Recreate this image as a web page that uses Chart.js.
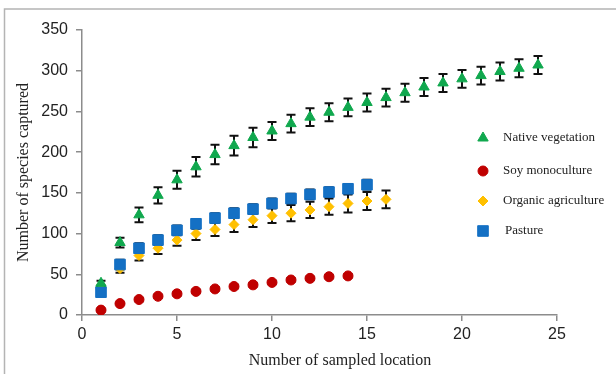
<!DOCTYPE html>
<html>
<head>
<meta charset="utf-8">
<script src="https://cdn.jsdelivr.net/npm/chart.js@4.4.1/dist/chart.umd.min.js"></script>
<style>
  html, body { margin: 0; padding: 0; background: #fff; }
  #wrap { position: relative; width: 616px; height: 374px; }
</style>
</head>
<body>
<div id="wrap"><canvas id="chart" width="616" height="374"></canvas></div>
<script>
// species accumulation by sampled location
const locations = [1, 2, 3, 4, 5, 6, 7, 8, 9, 10, 11, 12, 13, 14, 15, 16, 17, 18, 19, 20, 21, 22, 23, 24];

const nativeVeg = [39, 89, 123, 147, 166, 182, 197, 208, 218, 226, 235, 243, 249, 255, 261, 267, 273, 280, 285, 290, 294, 299, 303, 307];
const nativeErr = [3, 6, 9, 10, 11, 12, 12, 12, 12, 11, 11, 11, 11, 11, 11, 11, 11, 11, 11, 11, 11, 11, 11, 11];

const soyMono = [6, 14, 19, 23, 26, 29, 32, 35, 37, 40, 43, 45, 47, 48];
const soyErr = [1, 1, 2, 2, 2, 2, 2, 2, 2, 2, 2, 2, 2, 2];

const organicAgri = [32, 57, 73, 82, 92, 100, 105, 111, 117, 122, 125, 129, 133, 137, 140, 142];
const organicErr = [4, 5, 6, 7, 7, 8, 8, 9, 9, 9, 10, 10, 10, 11, 11, 11];

const pasture = [28, 62, 82, 92, 104, 112, 119, 125, 130, 137, 143, 148, 151, 155, 160];
const pastureErr = [5, 6, 6, 6, 6, 6, 6, 6, 6, 6, 6, 6, 6, 6, 6];

const seriesNames = ['Native vegetation', 'Soy monoculture', 'Organic agriculture', 'Pasture'];
const xTicks = [0, 5, 10, 15, 20, 25];
const yTicks = [0, 50, 100, 150, 200, 250, 300, 350];

const sansFont = "'Liberation Sans', Arial, sans-serif";
const serifFont = "'Liberation Serif', 'Times New Roman', serif";

// 把数组拼成散点
function toPoints(values, errs) {
    return values.map((v, i) => ({ x: locations[i], y: v, err: errs[i] }));
}

// 误差线：画在标记后面
const errorBarPlugin = {
    id: 'errorBars',
    beforeDatasetsDraw(chart) {
        const ctx = chart.ctx;
        const yScale = chart.scales.y;
        ctx.save();
        ctx.strokeStyle = '#111';
        ctx.lineWidth = 2;
        chart.data.datasets.forEach((ds, di) => {
            const meta = chart.getDatasetMeta(di);
            meta.data.forEach((pt, i) => {
                const p = ds.data[i];
                const top = yScale.getPixelForValue(p.y + p.err);
                const bot = yScale.getPixelForValue(p.y - p.err);
                const cap = 4.5;
                ctx.beginPath();
                ctx.moveTo(pt.x, top);
                ctx.lineTo(pt.x, bot);
                ctx.moveTo(pt.x - cap, top);
                ctx.lineTo(pt.x + cap, top);
                ctx.moveTo(pt.x - cap, bot);
                ctx.lineTo(pt.x + cap, bot);
                ctx.stroke();
            });
        });
        ctx.restore();
    }
};

// 外框、轴标题和图例
const decorPlugin = {
    id: 'decor',
    beforeDraw(chart) {
        const ctx = chart.ctx;
        ctx.save();
        ctx.fillStyle = '#fff';
        ctx.fillRect(0, 0, chart.width, chart.height);
        ctx.strokeStyle = '#b4b4b4';
        ctx.lineWidth = 1.5;
        ctx.strokeRect(4.5, 9, chart.width + 20, chart.height + 20);
        ctx.restore();
    },
    afterDraw(chart) {
        const ctx = chart.ctx;
        const area = chart.chartArea;
        ctx.save();
        ctx.fillStyle = '#222';
        ctx.font = '16px ' + serifFont;
        ctx.textAlign = 'center';
        ctx.textBaseline = 'middle';
        ctx.fillText('Number of sampled location', area.left + 258, 361);

        ctx.translate(24, (area.top + area.bottom) / 2);
        ctx.rotate(-Math.PI / 2);
        ctx.fillText('Number of species captured', 0, 0);
        ctx.restore();

        // 图例
        ctx.save();
        ctx.font = '13px ' + serifFont;
        ctx.textAlign = 'left';
        ctx.textBaseline = 'middle';
        const rows = [138, 171, 201, 231];
        chart.data.datasets.forEach((ds, i) => {
            const y = rows[i];
            ctx.fillStyle = ds.backgroundColor;
            ctx.strokeStyle = ds.borderColor;
            ctx.lineWidth = 1;
            Chart.helpers.drawPoint(ctx, {
                pointStyle: ds.pointStyle,
                radius: ds.pointRadius,
                rotation: 0,
                borderWidth: 1
            }, 483, y);
            ctx.fillStyle = '#222';
            ctx.fillText(ds.label, i === 3 ? 505 : 503, y);
        });
        ctx.restore();
    }
};

new Chart(document.getElementById('chart'), {
    type: 'scatter',
    data: {
        datasets: [
            {
                label: seriesNames[0],
                data: toPoints(nativeVeg, nativeErr),
                order: 0,
                pointStyle: 'triangle',
                pointRadius: 6,
                backgroundColor: '#10a84e',
                borderColor: '#10a84e',
                borderWidth: 1
            },
            {
                label: seriesNames[1],
                data: toPoints(soyMono, soyErr),
                order: 1,
                pointStyle: 'circle',
                pointRadius: 5,
                backgroundColor: '#c00000',
                borderColor: '#c00000',
                borderWidth: 1
            },
            {
                label: seriesNames[2],
                data: toPoints(organicAgri, organicErr),
                order: 3,
                pointStyle: 'rectRot',
                pointRadius: 5,
                backgroundColor: '#ffc000',
                borderColor: '#ffc000',
                borderWidth: 1
            },
            {
                label: seriesNames[3],
                data: toPoints(pasture, pastureErr),
                order: 2,
                pointStyle: 'rect',
                pointRadius: 7.5,
                backgroundColor: '#1470c4',
                borderColor: '#1470c4',
                borderWidth: 1
            }
        ]
    },
    options: {
        responsive: false,
        animation: false,
        devicePixelRatio: 1,
        layout: { padding: { top: 30, right: 59, left: 0, bottom: 0 } },
        plugins: {
            legend: { display: false },
            tooltip: { enabled: false }
        },
        scales: {
            x: {
                type: 'linear',
                min: xTicks[0],
                max: xTicks[xTicks.length - 1],
                afterBuildTicks(scale) { scale.ticks = xTicks.map(v => ({ value: v })); },
                afterFit(scale) { scale.height = 59; },
                ticks: { color: '#222', font: { size: 16, family: sansFont }, padding: 4 },
                grid: { drawOnChartArea: false, drawTicks: true, tickLength: 6, color: '#8c8c8c', lineWidth: 1.5 },
                border: { color: '#8c8c8c', width: 1.5 }
            },
            y: {
                type: 'linear',
                min: yTicks[0],
                max: yTicks[yTicks.length - 1],
                afterBuildTicks(scale) { scale.ticks = yTicks.map(v => ({ value: v })); },
                afterFit(scale) { scale.width = 82; },
                ticks: { color: '#222', font: { size: 16, family: sansFont }, padding: 8 },
                grid: { drawOnChartArea: false, drawTicks: true, tickLength: 6, color: '#8c8c8c', lineWidth: 1.5 },
                border: { color: '#8c8c8c', width: 1.5 }
            }
        }
    },
    plugins: [errorBarPlugin, decorPlugin]
});
</script>
</body>
</html>
